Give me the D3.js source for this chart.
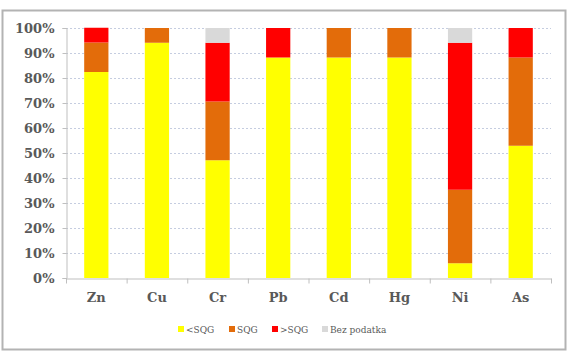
<!DOCTYPE html>
<html>
<head>
<meta charset="utf-8">
<script src="https://cdn.jsdelivr.net/npm/d3@7"></script>
<style>
  html, body { margin: 0; padding: 0; background: #ffffff; }
  svg { display: block; }
</style>
</head>
<body>
<svg id="chart" width="576" height="354"></svg>
<script>
// Share of samples per metal in each sediment quality class (%)
const categories = ["Zn", "Cu", "Cr", "Pb", "Cd", "Hg", "Ni", "As"];
const seriesNames = ["<SQG", "SQG", ">SQG", "Bez podatka"];
const belowSQG    = [82.4, 94.1, 47.1, 88.2, 88.2, 88.2, 5.9, 52.9];
const atSQG       = [11.8, 5.9, 23.5, 0, 11.8, 11.8, 29.4, 35.3];
const aboveSQG    = [5.9, 0, 23.5, 11.8, 0, 0, 58.8, 11.8];
const noData      = [0, 0, 5.9, 0, 0, 0, 5.9, 0];
const yTicks      = [0, 10, 20, 30, 40, 50, 60, 70, 80, 90, 100];
const colors      = ["#ffff00", "#e36c0a", "#ff0000", "#d9d9d9"];

const rows = categories.map((c, i) => ({
  cat: c,
  "<SQG": belowSQG[i],
  "SQG": atSQG[i],
  ">SQG": aboveSQG[i],
  "Bez podatka": noData[i]
}));

const svg = d3.select("#chart");
const font = "'DejaVu Serif', 'Liberation Serif', serif";

// outer frame
svg.append("rect")
  .attr("x", 2.5).attr("y", 10.5)
  .attr("width", 563).attr("height", 339)
  .attr("fill", "#fff")
  .attr("stroke", "#b3b3b3")
  .attr("stroke-width", 2);

const plotLeft = 66, plotRight = 551, plotTop = 28, plotBottom = 278;

const x = d3.scaleBand().domain(categories).range([plotLeft, plotRight]).paddingInner(0.6).paddingOuter(0.3);
const y = d3.scaleLinear().domain([0, 100]).range([plotBottom, plotTop]);

// dashed gridlines
svg.append("g")
  .selectAll("line")
  .data(yTicks.filter(t => t > 0))
  .join("line")
  .attr("x1", plotLeft).attr("x2", plotRight)
  .attr("y1", d => y(d) + 0.5).attr("y2", d => y(d) + 0.5)
  .attr("stroke", "#c5cde0")
  .attr("stroke-width", 1)
  .attr("stroke-dasharray", "2,2");

// stacked bars
const stack = d3.stack().keys(seriesNames)(rows);
svg.append("g")
  .selectAll("g")
  .data(stack)
  .join("g")
  .attr("fill", (d, i) => colors[i])
  .selectAll("rect")
  .data(d => d)
  .join("rect")
  .attr("x", d => x(d.data.cat))
  .attr("width", x.bandwidth())
  .attr("y", d => y(d[1]))
  .attr("height", d => y(d[0]) - y(d[1]));

// y axis
const yAxis = d3.axisLeft(y)
  .tickValues(yTicks)
  .tickFormat(d => d + "%")
  .tickSize(4)
  .tickPadding(8);
const gy = svg.append("g")
  .attr("transform", `translate(${plotLeft + 0.5},0)`)
  .call(yAxis);
gy.select(".domain").attr("stroke", "#bfbfbf");
gy.selectAll(".tick line").attr("stroke", "#bfbfbf");
gy.selectAll("text")
  .attr("font-family", font)
  .attr("font-size", 13)
  .attr("font-weight", "bold")
  .attr("fill", "#595959");

// x axis with boundary tick marks between categories
const xAxis = d3.axisBottom(x).tickSize(0).tickPadding(14);
const gx = svg.append("g")
  .attr("transform", `translate(0,${plotBottom + 0.5})`)
  .call(xAxis);
gx.select(".domain").attr("stroke", "#bfbfbf");
gx.selectAll("text")
  .attr("font-family", font)
  .attr("font-size", 13)
  .attr("font-weight", "bold")
  .attr("fill", "#595959");
const bandW = (plotRight - plotLeft) / categories.length;
gx.append("g")
  .selectAll("line")
  .data(d3.range(categories.length + 1))
  .join("line")
  .attr("x1", i => plotLeft + 0.5 + i * bandW)
  .attr("x2", i => plotLeft + 0.5 + i * bandW)
  .attr("y1", 0).attr("y2", 5)
  .attr("stroke", "#bfbfbf");

// legend
const legendX = [178, 229, 272, 322];
const legend = svg.append("g").attr("transform", "translate(0,329)");
seriesNames.forEach((name, i) => {
  legend.append("rect")
    .attr("x", legendX[i]).attr("y", -3)
    .attr("width", 6).attr("height", 6)
    .attr("fill", colors[i]);
  legend.append("text")
    .attr("x", legendX[i] + 8).attr("y", 3.5)
    .attr("font-family", font)
    .attr("font-size", 9)
    .attr("fill", "#595959")
    .text(name);
});
</script>
</body>
</html>
